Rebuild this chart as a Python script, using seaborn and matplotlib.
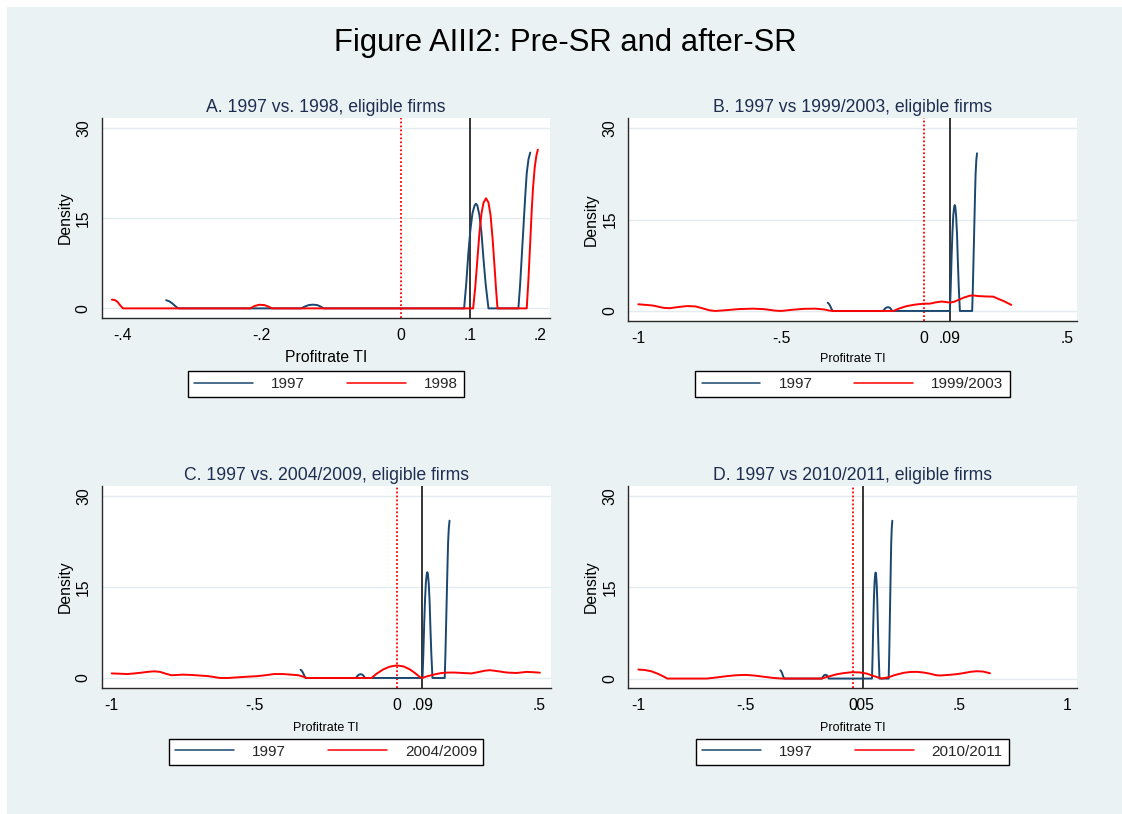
import matplotlib
matplotlib.use("Agg")
import matplotlib.pyplot as plt
from matplotlib.patches import Rectangle
import seaborn as sns

# ---------------------------------------------------------------------------
# Kernel density estimates of "Profitrate TI" (eligible firms)
# ---------------------------------------------------------------------------
# 1997 reference year (drawn in every panel)
x_1997 = [-0.337, -0.333, -0.329, -0.325, -0.321, -0.319,
          -0.143, -0.138, -0.132, -0.126, -0.120, -0.115, -0.111,
          0.091, 0.094, 0.097, 0.100, 0.103, 0.106, 0.108, 0.110, 0.113, 0.116,
          0.119, 0.122, 0.126,
          0.169, 0.1715, 0.174, 0.1765, 0.179, 0.181, 0.1835, 0.186]
d_1997 = [1.35, 1.2, 0.9, 0.5, 0.1, 0.0,
          0.0, 0.3, 0.55, 0.62, 0.55, 0.3, 0.0,
          0.0, 4.0, 9.0, 13.0, 15.8, 17.1, 17.4, 17.1, 15.5, 12.5,
          8.0, 4.0, 0.0,
          0.0, 4.0, 9.0, 14.0, 19.0, 22.5, 24.8, 25.9]

# 1998
x_1998 = [-0.415, -0.411, -0.407, -0.403, -0.399,
          -0.216, -0.210, -0.203, -0.196, -0.190, -0.185,
          0.104, 0.107, 0.110, 0.113, 0.116, 0.119, 0.1225, 0.126, 0.129, 0.132,
          0.135, 0.137, 0.139,
          0.181, 0.1835, 0.186, 0.188, 0.190, 0.1925, 0.195, 0.197]
d_1998 = [1.45, 1.4, 1.1, 0.5, 0.0,
          0.0, 0.4, 0.6, 0.55, 0.3, 0.0,
          0.0, 3.5, 8.0, 12.5, 15.8, 17.6, 18.3, 17.6, 15.5, 11.5,
          6.5, 3.0, 0.0,
          0.0, 5.0, 11.0, 16.0, 20.0, 23.5, 25.5, 26.4]

# 1999/2003
x_9903 = [-1.0, -0.95, -0.91, -0.89, -0.86, -0.83, -0.80, -0.78, -0.75, -0.73,
          -0.70, -0.65, -0.60, -0.56, -0.52, -0.50, -0.46, -0.42, -0.38, -0.35,
          -0.33, -0.317, -0.107, -0.084, -0.06, -0.03, 0.0, 0.021, 0.04, 0.062,
          0.08, 0.091, 0.105, 0.118, 0.14, 0.16, 0.173, 0.19, 0.208, 0.243,
          0.26, 0.278, 0.306]
d_9903 = [1.1, 0.9, 0.5, 0.45, 0.65, 0.8, 0.75, 0.5, 0.1, 0.0,
          0.1, 0.3, 0.38, 0.3, 0.05, 0.0, 0.2, 0.35, 0.38, 0.25,
          0.05, 0.0, 0.0, 0.45, 0.8, 1.05, 1.2, 1.2, 1.4, 1.55,
          1.45, 1.37, 1.5, 1.75, 2.2, 2.5, 2.55, 2.45, 2.4, 2.35,
          2.0, 1.65, 1.0]

# 2004/2009
x_0409 = [-1.0, -0.97, -0.945, -0.92, -0.90, -0.875, -0.85, -0.83, -0.81, -0.79,
          -0.77, -0.75, -0.72, -0.69, -0.66, -0.64, -0.62, -0.59, -0.56, -0.52,
          -0.49, -0.46, -0.43, -0.40, -0.37, -0.345, -0.33, -0.318, -0.315, -0.088,
          -0.07, -0.047, -0.025, 0.0, 0.025, 0.047, 0.065, 0.082, 0.09, 0.105,
          0.13, 0.155, 0.175, 0.20, 0.234, 0.263, 0.29, 0.31, 0.328, 0.35,
          0.386, 0.421, 0.456, 0.48, 0.503]
d_0409 = [0.75, 0.7, 0.65, 0.75, 0.85, 1.0, 1.1, 1.0, 0.7, 0.45,
          0.5, 0.55, 0.5, 0.4, 0.3, 0.15, 0.0, 0.0, 0.1, 0.22,
          0.3, 0.45, 0.65, 0.65, 0.55, 0.45, 0.25, 0.05, 0.0, 0.0,
          0.7, 1.4, 1.85, 2.07, 1.9, 1.4, 0.8, 0.15, 0.0, 0.25,
          0.55, 0.8, 0.88, 0.9, 0.82, 0.75, 1.0, 1.2, 1.28, 1.15,
          0.9, 0.82, 1.0, 0.95, 0.87]

# 2010/2011
x_1011 = [-1.0, -0.97, -0.94, -0.91, -0.88, -0.865, -0.68, -0.63, -0.587, -0.54,
          -0.50, -0.46, -0.416, -0.37, -0.33, -0.144, -0.11, -0.074, -0.04, 0.0,
          0.035, 0.066, 0.10, 0.136, 0.167, 0.20, 0.24, 0.27, 0.30, 0.33,
          0.362, 0.39, 0.41, 0.45, 0.486, 0.52, 0.55, 0.58, 0.61, 0.642]
d_1011 = [1.48, 1.4, 1.2, 0.8, 0.3, 0.0, 0.0, 0.2, 0.4, 0.55,
          0.6, 0.5, 0.3, 0.1, 0.0, 0.0, 0.35, 0.7, 0.9, 1.05,
          1.0, 0.82, 0.4, 0.0, 0.2, 0.6, 0.95, 1.08, 1.1, 1.0,
          0.8, 0.55, 0.5, 0.6, 0.72, 0.9, 1.1, 1.2, 1.15, 0.87]

# Panel texts, comparison series and axis ticks
panel_titles = ["A. 1997 vs. 1998, eligible firms",
                "B. 1997 vs 1999/2003, eligible firms",
                "C. 1997 vs. 2004/2009, eligible firms",
                "D. 1997 vs 2010/2011, eligible firms"]
comparison_labels = ["1998", "1999/2003", "2004/2009", "2010/2011"]
comparison_x = [x_1998, x_9903, x_0409, x_1011]
comparison_d = [d_1998, d_9903, d_0409, d_1011]
threshold = [0.1, 0.09, 0.09, 0.05]
xtick_values = [[-0.4, -0.2, 0, 0.1, 0.2],
                [-1, -0.5, 0, 0.09, 0.5],
                [-1, -0.5, 0, 0.09, 0.5],
                [-1, -0.5, 0, 0.05, 0.5, 1]]
xtick_labels = [["-.4", "-.2", "0", ".1", ".2"],
                ["-1", "-.5", "0", ".09", ".5"],
                ["-1", "-.5", "0", ".09", ".5"],
                ["-1", "-.5", "0", ".05", ".5", "1"]]
ytick_values = [0, 15, 30]
ytick_labels = ["0", "15", "30"]
xlims = [(-0.4296, 0.2144), (-1.035, 0.535), (-1.035, 0.541), (-1.047, 1.047)]
main_title = "Figure AIII2: Pre-SR and after-SR"
x_title = "Profitrate TI"
y_title = "Density"
base_label = "1997"

# ---------------------------------------------------------------------------
# Style
# ---------------------------------------------------------------------------
sns.set_theme(style="white")
plt.rcParams["font.family"] = ["Liberation Sans", "DejaVu Sans"]

W, H = 1122, 814
BG = "#eaf2f3"
NAVY = "#1a476f"
RED = "#ff0000"
TITLE_COL = "#1e2d50"
AXIS_COL = "#2a2a2a"

fig = plt.figure(figsize=(W / 100, H / 100), dpi=100)
fig.patch.set_facecolor("white")
fig.add_artist(Rectangle((7 / W, 0), 1 - 7 / W, 1 - 7 / H, transform=fig.transFigure,
                         facecolor=BG, edgecolor="none", zorder=0))

# Axes boxes in pixels: left, top, right, bottom
boxes = [(101.7, 118.0, 550.0, 318.0),
         (628.3, 118.3, 1076.7, 320.7),
         (101.7, 485.7, 550.7, 687.7),
         (628.3, 485.7, 1076.7, 688.3)]
legend_centers = [(325.8, 384.3), (852.5, 384.3), (326.2, 751.7), (852.5, 751.7)]
xlabel_size = [11.3, 9.0, 9.0, 9.0]
xlabel_pos = [-0.1985, -0.1907, -0.198, -0.1945]

for i in range(4):
    l, t, r, b = boxes[i]
    ax = fig.add_axes([l / W, 1 - b / H, (r - l) / W, (b - t) / H])
    ax.set_facecolor("white")

    sns.lineplot(x=x_1997, y=d_1997, ax=ax, color=NAVY, lw=1.4,
                 sort=False, estimator=None, legend=False)
    sns.lineplot(x=comparison_x[i], y=comparison_d[i], ax=ax, color=RED, lw=1.4,
                 sort=False, estimator=None, legend=False)
    curve_lines = ax.lines[:2]

    ax.axvline(0, color=RED, lw=1.3, ls=(0, (1, 1.2)), zorder=1.5)
    ax.axvline(threshold[i], color="black", lw=1.1, zorder=1.5)

    ax.set_xlim(*xlims[i])
    ax.set_ylim(-1.6, 31.65)
    ax.set_yticks(ytick_values)
    ax.set_yticklabels(ytick_labels)
    ax.set_xticks(xtick_values[i])
    ax.set_xticklabels(xtick_labels[i])

    ax.yaxis.grid(True, color="#e3ecef", lw=1.0)
    ax.xaxis.grid(False)
    ax.set_axisbelow(True)

    for side in ["top", "right"]:
        ax.spines[side].set_visible(False)
    for side in ["left", "bottom"]:
        ax.spines[side].set_color(AXIS_COL)
        ax.spines[side].set_linewidth(1.0)

    ax.tick_params(axis="both", direction="out", length=4.3, width=0.8,
                   color=AXIS_COL, labelsize=11.3, labelcolor="black", pad=3)
    ax.tick_params(axis="y", labelrotation=90, pad=3.5)
    for lab in ax.get_yticklabels():
        lab.set_va("center")

    ax.set_title(panel_titles[i], fontsize=12.7, color=TITLE_COL, pad=4.2)
    ax.set_xlabel(x_title, fontsize=xlabel_size[i], color="black", va="center")
    ax.xaxis.set_label_coords(0.5, xlabel_pos[i])
    ax.set_ylabel(y_title, fontsize=11.3, color="black", va="center", ha="center")
    ax.yaxis.set_label_coords(-0.082, 0.5)

    cx, cy = legend_centers[i]
    leg = ax.legend(curve_lines, [base_label, comparison_labels[i]],
                    loc="center", bbox_to_anchor=(cx / W, 1 - cy / H),
                    bbox_transform=fig.transFigure, ncol=2, fontsize=11,
                    frameon=True, fancybox=False, framealpha=1,
                    handlelength=3.85, handletextpad=1.18, columnspacing=2.75,
                    borderpad=0.4)
    leg.get_frame().set_edgecolor("black")
    leg.get_frame().set_linewidth(1.0)
    leg.get_frame().set_facecolor("white")
    for ln in leg.get_lines():
        ln.set_linewidth(1.1)

fig.text(565 / W, 1 - 43.3 / H, main_title, ha="center", va="center",
         fontsize=22.3, color="black")

fig.savefig("out.png", dpi=100, facecolor=fig.get_facecolor())
